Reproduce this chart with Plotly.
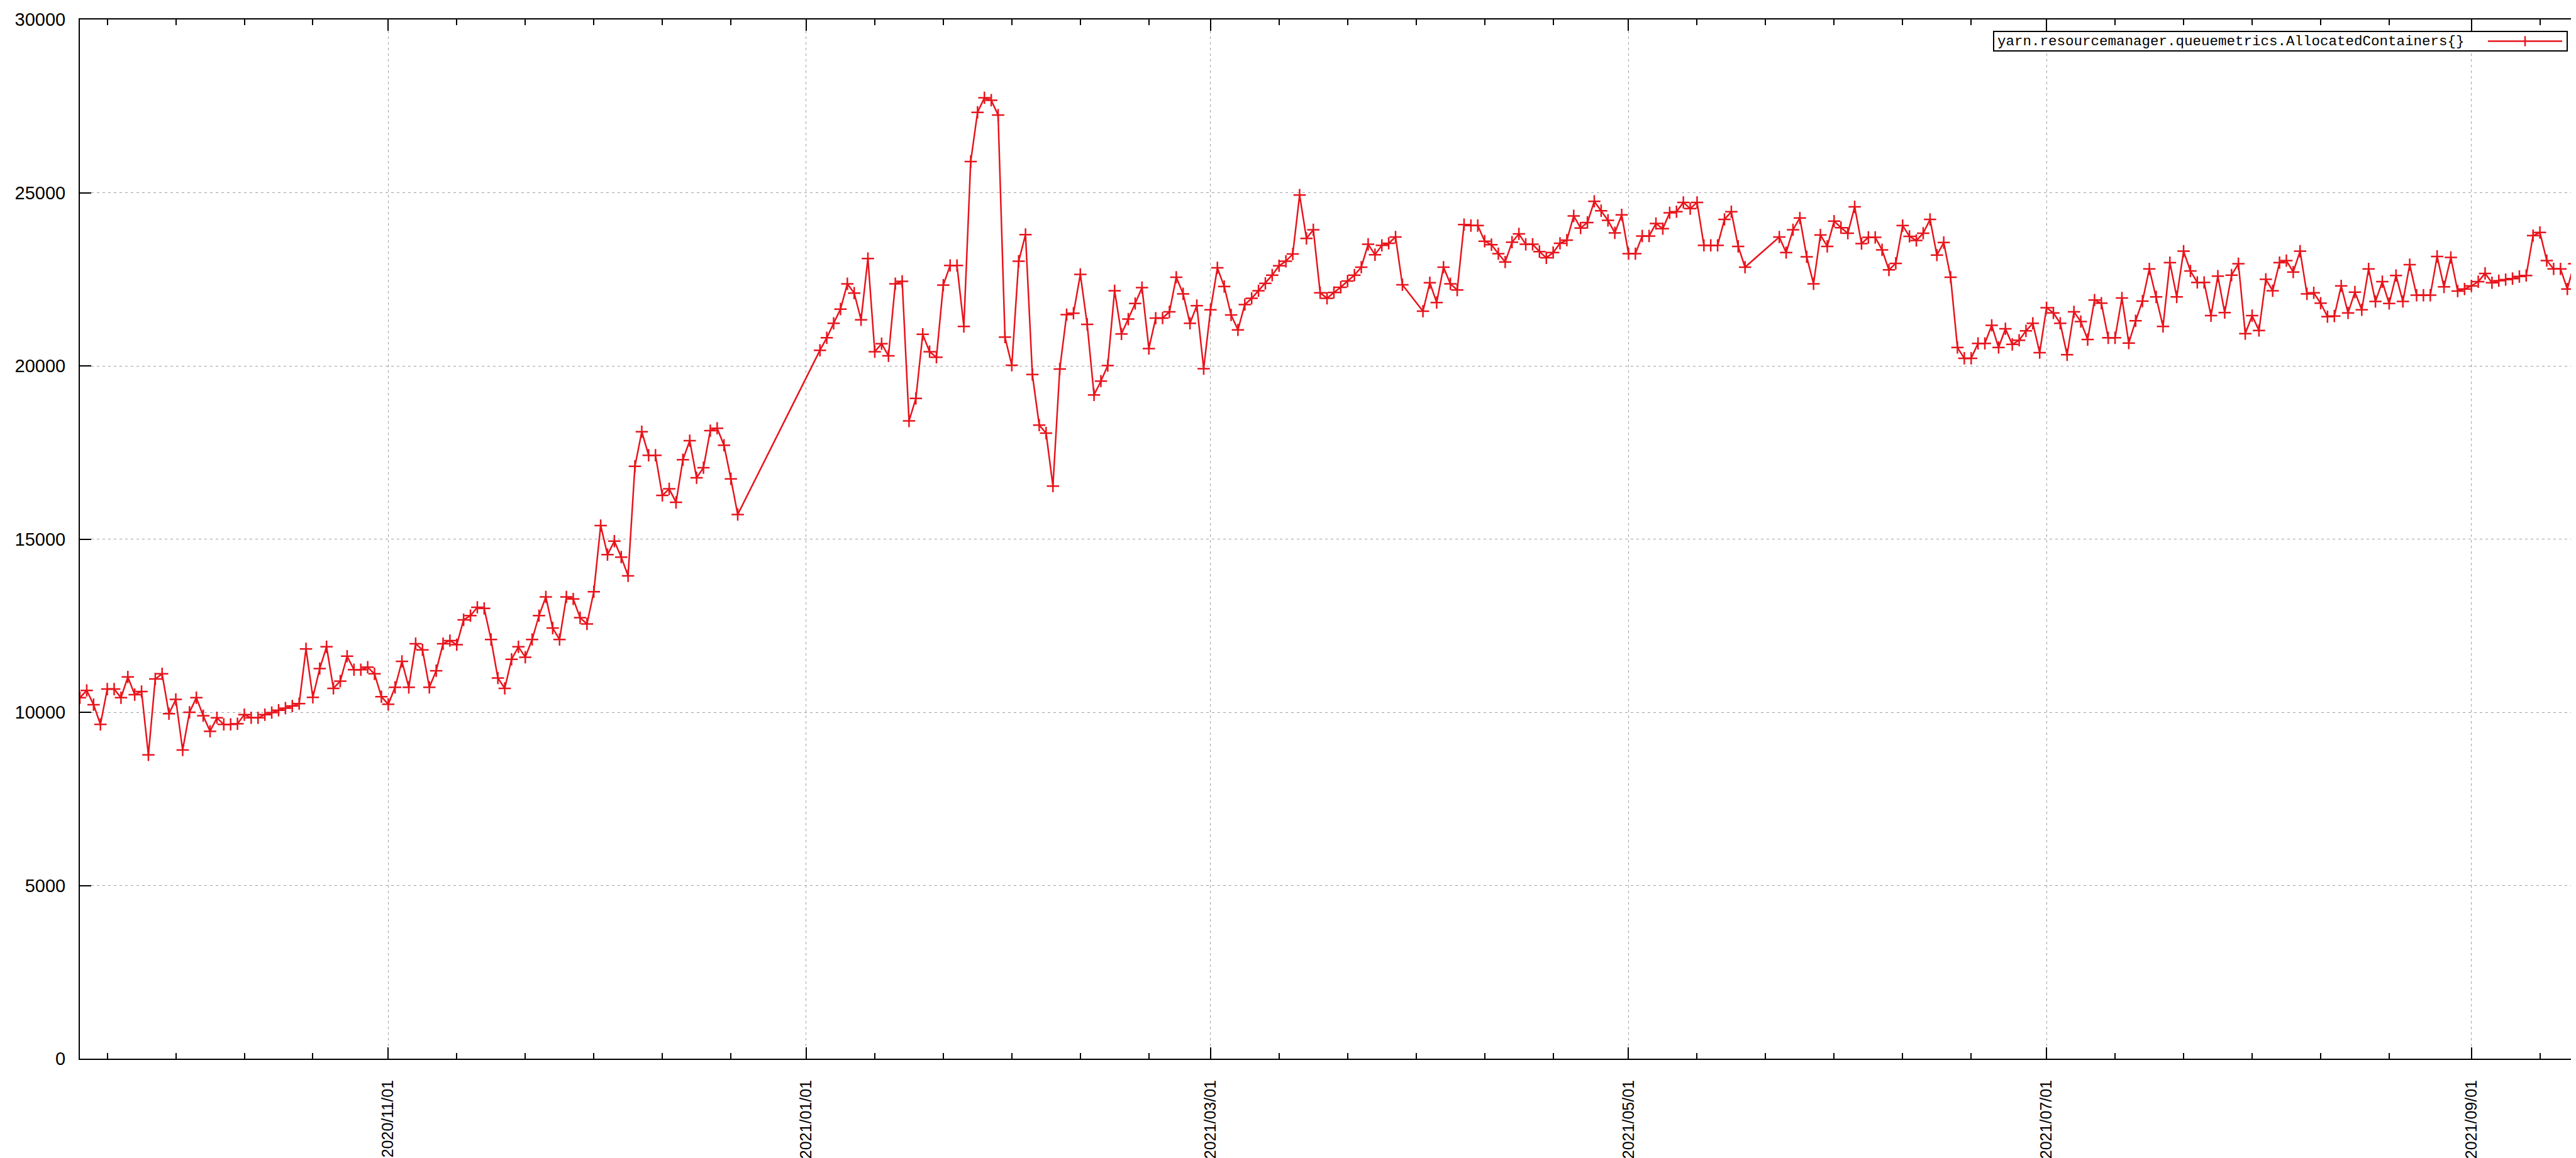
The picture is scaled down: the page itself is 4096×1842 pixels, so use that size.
import pandas as pd
import plotly.graph_objects as go

# ---------------- data (daily values) ----------------
series_name = "yarn.resourcemanager.queuemetrics.AllocatedContainers{}"

seg1_start = "2020-09-17"
seg1_values = [10420, 10630, 10220, 9650, 10670, 10670, 10420, 11020, 10510, 10600,
               8770, 10960, 11110, 9960, 10370, 8910, 10000, 10420, 9900, 9450,
               9840, 9650, 9650, 9670, 9930, 9840, 9840, 9930, 9990, 10060,
               10120, 10180, 10250, 11830, 10430, 11260, 11890, 10690, 10900, 11620,
               11230, 11230, 11300, 11110, 10450, 10230, 10720, 11470, 10720, 11980,
               11800, 10720, 11200, 11980, 12070, 11950, 12670, 12790, 13030, 13000,
               12100, 10990, 10690, 11530, 11890, 11590, 12100, 12790, 13330, 12430,
               12100, 13330, 13270, 12730, 12550, 13480, 15390, 14550, 14940, 14480,
               13940, 17100, 18100, 17420, 17420, 16260, 16450, 16060, 17290, 17840,
               16770, 17060, 18130, 18200, 17710, 16740, 15710]

seg2_start = "2021-01-03"
seg2_values = [20450, 20810, 21230, 21640, 22370, 22100, 21330, 23100, 20410, 20640,
               20290, 22370, 22440, 18410, 19060, 20910, 20410, 20250, 22330, 22900,
               22900, 21140, 25900, 27320, 27740, 27670, 27240, 20830, 20020, 23020,
               23790, 19750, 18290, 18060, 16530, 19910, 21480, 21520, 22640, 21200,
               19160, 19560, 20010, 22170, 20920, 21350, 21800, 22260, 20500, 21380,
               21380, 21560, 22560, 22080, 21230, 21740, 19920, 21620, 22830, 22290,
               21470, 21040, 21770, 21950, 22170, 22380, 22620, 22890, 23020, 23230,
               24930, 23680, 23930, 22110, 21950, 22120, 22270, 22450, 22620, 22850,
               23510, 23210, 23480, 23540, 23720, 22340]

seg3_start = "2021-04-01"
seg3_values = [21580, 22400, 21830, 22850, 22370, 22190, 24080, 24050, 24050, 23600,
               23500, 23240, 23000, 23570, 23810, 23510, 23510, 23300, 23120, 23270,
               23540, 23630, 24330, 23980, 24140, 24750, 24480, 24200, 23840, 24360,
               23240, 23240, 23750, 23750, 24110, 23960, 24420, 24450, 24720, 24540,
               24720, 23480, 23480, 23480, 24230, 24450, 23450, 22850]

seg4_start = "2021-05-23"
seg4_values = [23720, 23270, 23930, 24270, 23150, 22370, 23780, 23450, 24180, 23990,
               23830, 24590, 23530, 23710, 23710, 23350, 22770, 22960, 24050, 23740,
               23620, 23830, 24230, 23200, 23560, 22560, 20530, 20220, 20220, 20650,
               20650, 21170, 20530, 21070, 20620, 20740, 21010, 21230, 20380, 21680,
               21530, 21230, 20320, 21560, 21280, 20760, 21900, 21810, 20810, 20810,
               21960, 20660, 21300, 21870, 22800, 21990, 21140, 22980, 21990, 23310,
               22740, 22410, 22410, 21450, 22590, 21540, 22620, 22950, 20930, 21450,
               21020, 22500, 22170, 22980, 23040, 22710, 23310, 22080, 22110, 21810,
               21420, 21440, 22310, 21530, 22130, 21620, 22800, 21860, 22430, 21800,
               22610, 21860, 22920, 22040, 22040, 22040, 23160, 22280, 23130, 22160,
               22220, 22310, 22430, 22670, 22400, 22460, 22490, 22520, 22580, 22610,
               23760, 23850, 23040, 22800, 22800, 22220, 22950, 21680]

x_tick_dates = ["2020-11-01", "2021-01-01", "2021-03-01", "2021-05-01", "2021-07-01", "2021-09-01"]
x_tick_labels = ["2020/11/01", "2021/01/01", "2021/03/01", "2021/05/01", "2021/07/01", "2021/09/01"]
minor_base_dates = ["2020-09-01"] + x_tick_dates
y_tick_values = [0, 5000, 10000, 15000, 20000, 25000, 30000]
y_tick_labels = ["0", "5000", "10000", "15000", "20000", "25000", "30000"]
x_range = ["2020-09-17", "2021-09-17"]
y_range = [0, 30000]

# ---------------- assemble ----------------
dates, values = [], []
for start, vals in [(seg1_start, seg1_values), (seg2_start, seg2_values),
                    (seg3_start, seg3_values), (seg4_start, seg4_values)]:
    dates += list(pd.date_range(start, periods=len(vals), freq="D"))
    values += vals

minor_ticks = []
for b in minor_base_dates:
    for k in (10, 20, 30, 40, 50):
        minor_ticks.append(pd.Timestamp(b) + pd.Timedelta(days=k))

W, H = 4096, 1842
L, R, T, B = 119, 0, 23, 166
PW, PH = W - L - R, H - T - B
RED = "#e8141c"
GRID = "#a0a0a0"
MONO = "Liberation Mono, DejaVu Sans Mono, monospace"
SANS = "Liberation Sans, Arial, sans-serif"


def px(X):
    return (X - L) / PW


def py(Y):
    return (H - B - Y) / PH


fig = go.Figure()
fig.add_trace(go.Scatter(
    x=dates, y=values, mode="lines+markers", name=series_name, showlegend=False,
    line=dict(color=RED, width=2.5),
    marker=dict(symbol="cross-thin", size=14, color=RED, line=dict(color=RED, width=2.5)),
))

fig.update_layout(
    width=W, height=H, margin=dict(l=L, r=R, t=T, b=B, pad=0, autoexpand=False),
    paper_bgcolor="white", plot_bgcolor="white",
    xaxis=dict(
        type="date", range=x_range, tickmode="array", automargin=False,
        tickvals=x_tick_dates, ticktext=x_tick_labels, tickangle=-90,
        ticks="inside", ticklen=18, tickwidth=2, tickcolor="black",
        showline=True, linecolor="black", linewidth=2, mirror="ticks",
        showgrid=True, gridcolor=GRID, gridwidth=1, griddash="4px,5px",
        zeroline=False, ticklabelstandoff=22,
        tickfont=dict(family=SANS, size=25, color="black"),
        minor=dict(tickmode="array", tickvals=minor_ticks, ticks="inside",
                   ticklen=9, tickwidth=2, tickcolor="black", showgrid=False),
    ),
    yaxis=dict(
        range=y_range, tickmode="array", tickvals=y_tick_values, ticktext=y_tick_labels,
        automargin=False,
        ticks="inside", ticklen=18, tickwidth=2, tickcolor="black",
        showline=True, linecolor="black", linewidth=2, mirror=False,
        showgrid=True, gridcolor=GRID, gridwidth=1, griddash="4px,5px",
        zeroline=False, ticklabelstandoff=15,
        tickfont=dict(family=SANS, size=29, color="black"),
    ),
)

# gnuplot-style key: text on the left, sample on the right, inside a box
box_x0, box_x1, box_y0, box_y1 = 3162, 4074, 42, 73
ymid = (box_y0 + box_y1) / 2
fig.add_shape(type="rect", xref="paper", yref="paper",
              x0=px(box_x0), x1=px(box_x1), y0=py(box_y1), y1=py(box_y0),
              line=dict(color="black", width=2), fillcolor="white", layer="above")
fig.add_annotation(xref="paper", yref="paper", x=px(box_x0 + 4), y=py(ymid),
                   xanchor="left", yanchor="middle", showarrow=False,
                   text=series_name, font=dict(family=MONO, size=22.5, color="black"))
fig.add_shape(type="line", xref="paper", yref="paper",
              x0=px(3948), x1=px(4066), y0=py(ymid), y1=py(ymid),
              line=dict(color=RED, width=2.5), layer="above")
fig.add_shape(type="line", xref="paper", yref="paper",
              x0=px(4007), x1=px(4007), y0=py(ymid - 8), y1=py(ymid + 8),
              line=dict(color=RED, width=2.5), layer="above")

fig.write_html("out.html")
